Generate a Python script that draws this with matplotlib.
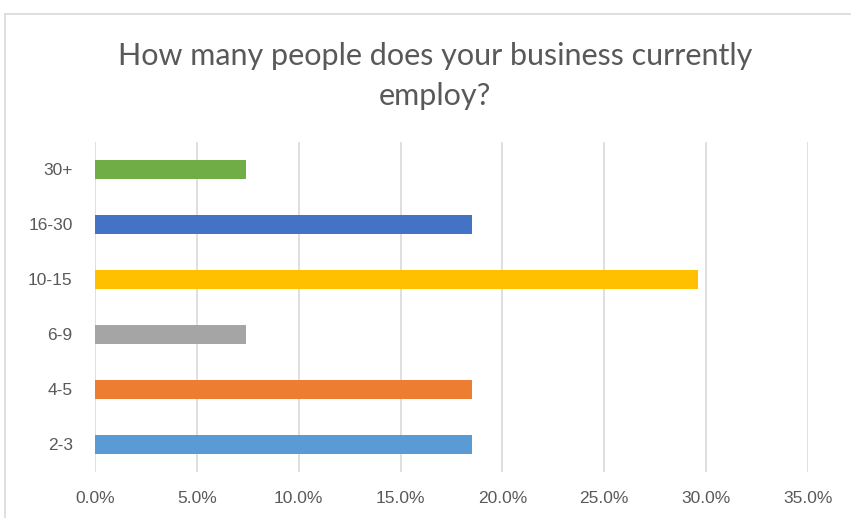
import matplotlib.pyplot as plt
from matplotlib.patches import Rectangle
from matplotlib.ticker import PercentFormatter

# data
categories = ["2-3", "4-5", "6-9", "10-15", "16-30", "30+"]
shares = [18.5, 18.5, 7.4, 29.6, 18.5, 7.4]
bar_colors = ["#5B9BD5", "#ED7D31", "#A5A5A5", "#FFC000", "#4472C4", "#70AD47"]
xticks = [0, 5, 10, 15, 20, 25, 30, 35]

fig = plt.figure(figsize=(8.51, 5.18), dpi=100)
ax = fig.add_axes([0.1116, 0.0888, 0.9495 - 0.1116, 0.726 - 0.0888])

# chart frame
fig.patches.append(Rectangle((5 / 851, -0.01), 0.995, 1 - 14 / 518 + 0.01,
                             transform=fig.transFigure, fill=False,
                             edgecolor="#D9D9D9", linewidth=1.2))

ax.barh(range(len(categories)), shares, height=0.35, color=bar_colors, zorder=3)

ax.set_xlim(0, 35)
ax.set_ylim(-0.5, len(categories) - 0.5)
ax.set_xticks(xticks)
ax.xaxis.set_major_formatter(PercentFormatter(decimals=1))
ax.set_yticks(range(len(categories)))
ax.set_yticklabels(categories)
ax.grid(axis="x", color="#D9D9D9", linewidth=1.2, zorder=0)
for s in ax.spines.values():
    s.set_visible(False)
ax.tick_params(length=0, labelsize=12.5, labelcolor="#595959", pad=16)
ax.tick_params(axis="x", pad=14)
for lbl in ax.get_xticklabels() + ax.get_yticklabels():
    lbl.set_family("Liberation Sans")

fig.text(0.511, 0.853, "How many people does your business currently\nemploy?",
         ha="center", va="center", fontsize=22, color="#595959",
         family="Lato", linespacing=1.5)

fig.savefig("out.png", dpi=100)
